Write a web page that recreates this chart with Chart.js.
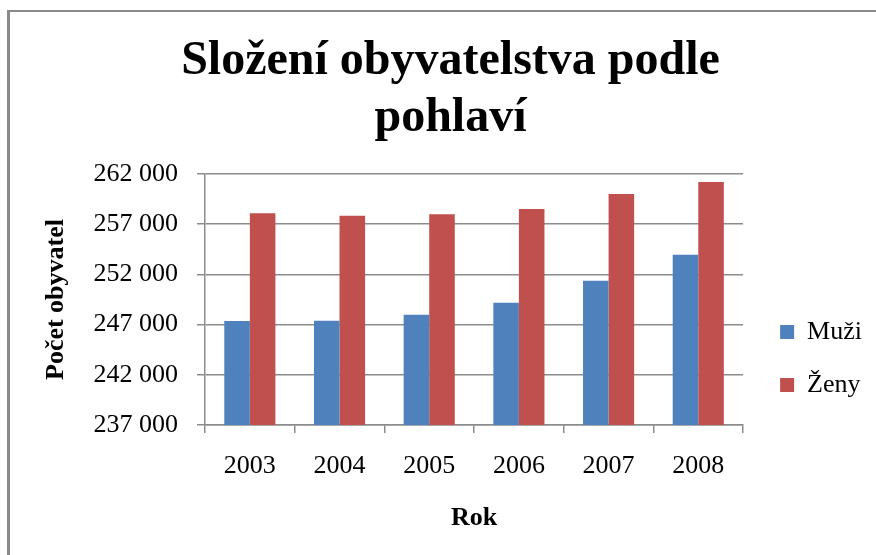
<!DOCTYPE html>
<html>
<head>
<meta charset="utf-8">
<script src="https://cdn.jsdelivr.net/npm/chart.js@4.4.1/dist/chart.umd.min.js"></script>
<style>
  html, body { margin: 0; padding: 0; background: #ffffff; overflow: hidden; width: 876px; height: 555px; }
  #frame { position: absolute; left: 7px; top: 10px; width: 1000px; height: 1000px;
           border-top: 2px solid #8a8a8a; border-left: 3px solid #8a8a8a; box-sizing: border-box; }
  #c { position: absolute; left: 0; top: 0; }
</style>
</head>
<body>
<div id="frame"></div>
<canvas id="c" width="876" height="555"></canvas>
<script>
const categories = ['2003', '2004', '2005', '2006', '2007', '2008'];
const seriesNames = ['Muži', 'Ženy'];
const muzi = [247360, 247390, 247990, 249180, 251370, 253960];
const zeny = [258080, 257850, 257980, 258510, 260010, 261200];
const yMin = 237000;
const yMax = 262000;
const yStep = 5000;
const titleLines = ['Složení obyvatelstva podle', 'pohlaví'];
const xTitle = 'Rok';
const yTitle = 'Počet obyvatel';

const SERIF = "'Liberation Serif', 'Times New Roman', serif";
const GRID = '#8c8c8c';

function fmt(v) {
  return String(v).replace(/\B(?=(\d{3})+(?!\d))/g, ' ');
}

new Chart(document.getElementById('c'), {
  type: 'bar',
  data: {
    labels: categories,
    datasets: [
      { label: seriesNames[0], data: muzi, backgroundColor: '#4F81BD', yAxisID: 'y',
        categoryPercentage: 0.57, barPercentage: 1.0 },
      { label: seriesNames[1], data: zeny, backgroundColor: '#C0504D', yAxisID: 'y',
        categoryPercentage: 0.57, barPercentage: 1.0 }
    ]
  },
  options: {
    responsive: false,
    animation: false,
    devicePixelRatio: 1,
    layout: { padding: { left: 29, right: 4, top: 0, bottom: 21 } },
    plugins: {
      tooltip: { enabled: false },
      title: {
        display: true,
        text: titleLines,
        color: '#000000',
        font: { family: SERIF, size: 48, weight: 'bold', lineHeight: 1.1875 },
        padding: { top: 33, bottom: 27 }
      },
      legend: {
        display: true,
        position: 'right',
        align: 'end',
        fullSize: false,
        labels: {
          color: '#000000',
          font: { family: SERIF, size: 26 },
          boxWidth: 14,
          boxHeight: 14,
          padding: 27
        }
      }
    },
    scales: {
      x: {
        type: 'category',
        grid: { display: true, drawOnChartArea: false, drawTicks: true, tickLength: 8, color: GRID, lineWidth: 1.5, offset: true },
        border: { display: true, color: GRID, width: 1.5 },
        ticks: { color: '#000000', font: { family: SERIF, size: 26 }, padding: 18, maxRotation: 0 },
        title: { display: true, text: xTitle, color: '#000000',
                 font: { family: SERIF, size: 26, weight: 'bold' }, padding: { top: 1, bottom: 0 } },
        afterFit: (s) => { s.height = 109; }
      },
      y: {
        type: 'linear',
        position: 'left',
        min: yMin,
        max: yMax,
        grid: { display: true, drawOnChartArea: true, drawTicks: true, tickLength: 8, color: GRID, lineWidth: 1.5 },
        border: { display: true, color: GRID, width: 1.5 },
        ticks: { stepSize: yStep, color: '#000000', font: { family: SERIF, size: 26 }, padding: 19,
                 callback: (v) => fmt(v) },
        title: { display: true, text: yTitle, color: '#000000',
                 font: { family: SERIF, size: 26, weight: 'bold' }, padding: { top: 12, bottom: 0 } },
        afterFit: (s) => { s.width = 176; }
      },
      pad: {
        type: 'linear',
        axis: 'y',
        position: 'right',
        display: true,
        grid: { display: false },
        border: { display: false },
        ticks: { display: false },
        afterFit: (s) => { s.width = 10; }
      }
    }
  }
});
</script>
</body>
</html>
